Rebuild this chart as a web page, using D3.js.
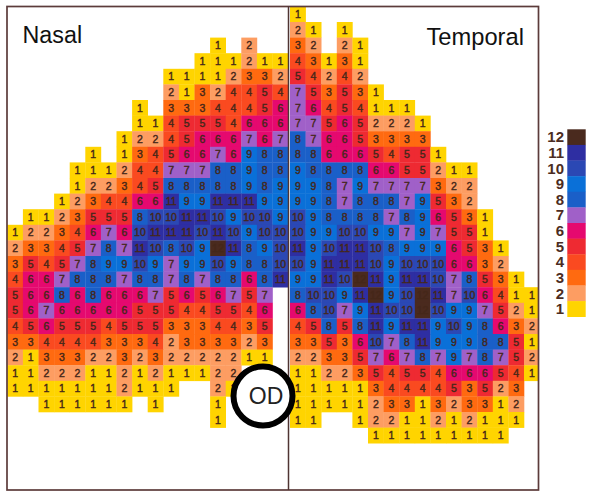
<!DOCTYPE html>
<html><head><meta charset="utf-8">
<script src="https://cdn.jsdelivr.net/npm/d3@7"></script>
<style>html,body{margin:0;padding:0;background:#fff}svg{display:block}text{font-family:"Liberation Sans",Arial,sans-serif}</style>
</head><body><svg id="c" width="591" height="493"></svg>
<script>
const levels=[12,11,10,9,8,7,6,5,4,3,2,1];
const levelColors=["#4a2a1e","#2e2ea2","#2b48b4","#0a70d8","#1a5fc8","#a060c8","#e5096f","#ee2a32","#fa4a20","#ff6a10","#fd9d62","#ffd400"];
const sideLabels=["Nasal","Temporal"];
const discLabel="OD";
const nasal=[
[0,0,0,0,0,0,0,0,0,0,0,0,0,0,0,0,0,0],
[0,0,0,0,0,0,0,0,0,0,0,0,0,0,0,0,0,0],
[0,0,0,0,0,0,0,0,0,0,0,0,0,1,0,2,0,0],
[0,0,0,0,0,0,0,0,0,0,0,0,1,1,1,2,1,1],
[0,0,0,0,0,0,0,0,0,0,1,1,1,1,2,3,3,2],
[0,0,0,0,0,0,0,0,0,0,2,1,3,2,4,4,5,4],
[0,0,0,0,0,0,0,0,1,0,3,3,3,4,4,4,5,6],
[0,0,0,0,0,0,0,0,1,1,4,5,5,5,4,6,6,6],
[0,0,0,0,0,0,0,1,2,2,4,5,6,6,6,7,6,7],
[0,0,0,0,0,1,0,1,3,4,5,6,6,7,6,9,8,8],
[0,0,0,0,1,1,1,2,4,4,7,7,7,8,8,9,8,8],
[0,0,0,0,1,2,2,3,4,5,8,8,8,8,8,9,8,9],
[0,0,0,1,2,3,4,4,6,6,11,9,9,11,11,11,9,9],
[0,1,1,2,3,5,5,5,8,10,10,11,11,10,9,10,10,9],
[1,2,2,3,4,6,7,6,10,11,11,11,10,11,10,9,10,10],
[2,3,3,4,5,7,8,7,11,10,8,10,9,12,11,8,9,10],
[3,5,4,5,7,8,9,9,10,9,7,9,9,10,9,8,8,10],
[4,6,6,7,8,8,8,7,8,8,7,8,7,8,8,6,8,11],
[5,6,6,8,6,8,6,6,6,7,5,6,5,6,7,5,7,0],
[5,6,7,6,6,6,6,6,5,5,5,4,4,5,5,4,6,0],
[4,5,6,5,5,5,4,5,5,5,3,3,3,4,4,3,5,0],
[3,3,4,4,4,4,3,3,3,4,2,3,3,3,3,2,3,0],
[2,1,3,3,3,2,2,3,2,3,2,2,2,2,2,1,1,0],
[1,1,2,2,2,1,1,2,1,2,1,1,1,2,2,0,0,0],
[1,1,1,1,1,1,1,2,1,1,1,0,0,2,1,0,0,0],
[0,0,1,1,1,1,1,1,0,1,0,0,0,1,0,0,0,0],
[0,0,0,0,0,0,0,0,0,0,0,0,0,1,0,0,0,0],
[0,0,0,0,0,0,0,0,0,0,0,0,0,0,0,0,0,0]];
const temporal=[
[1],
[2,1,0,1],
[3,2,0,2,1],
[4,3,1,3,1],
[5,4,2,4,2],
[7,5,3,5,3,1],
[7,6,4,5,4,1,1,1],
[7,7,5,6,5,2,2,2,1],
[8,7,6,6,5,3,3,3,3],
[8,8,6,6,6,5,4,5,5,1],
[9,8,8,8,8,6,6,5,5,2,1,1],
[9,9,8,7,9,7,7,7,7,3,2,2],
[9,9,8,7,8,8,8,7,9,5,3,2],
[10,9,8,8,8,8,7,8,9,6,5,3,1],
[10,9,9,10,10,9,9,7,9,7,5,5,1],
[11,9,10,11,11,10,8,9,9,9,6,5,3,1],
[10,9,11,11,11,10,9,10,10,10,6,6,3,2],
[9,9,11,10,12,11,9,11,11,10,7,8,5,3,1],
[8,10,10,9,11,12,9,10,12,11,7,10,6,4,1,1],
[6,8,10,7,9,11,10,10,12,10,9,9,7,5,2,1],
[4,5,8,5,8,11,9,11,11,9,10,9,8,6,3,2],
[3,3,5,3,6,10,7,8,11,9,9,9,8,8,5,1],
[2,2,3,3,5,7,6,7,8,7,9,7,8,7,5,2],
[1,1,2,2,3,5,4,5,5,4,6,6,6,5,4,1],
[1,1,1,1,1,3,4,4,4,4,5,3,5,2,3],
[1,1,1,1,1,2,3,3,1,3,2,3,3,1,2],
[1,1,0,0,1,2,2,1,1,2,1,2,1,1,1],
[0,0,0,0,0,1,1,1,1,1,1,1,1,1]];

const svg=d3.select("#c");
const frame={l:7,t:6.5,r:538.5,b:490,mid:288.5};
svg.append("defs").append("clipPath").attr("id","fr").append("rect")
  .attr("x",frame.l).attr("y",frame.t).attr("width",frame.r-frame.l).attr("height",frame.b-frame.t);
const color=d3.scaleOrdinal(levels,levelColors);
const y=d3.scaleBand(d3.range(nasal.length),[6.4,443.2]);
const xN=d3.scaleBand(d3.range(18),[7.3,288.1]);
const xT=d3.scaleBand(d3.range(16),[290,539.6]);
const ink="#452719";
const g=svg.append("g").attr("clip-path","url(#fr)");
function draw(rows,x,key){
  const cells=rows.flatMap((r,ri)=>r.map((v,ci)=>({v,ri,ci}))).filter(d=>d.v>0);
  const s=g.append("g").attr("class",key).selectAll("g").data(cells).join("g");
  s.append("rect").attr("x",d=>x(d.ci)).attr("y",d=>y(d.ri))
    .attr("width",x.bandwidth()+0.3).attr("height",y.bandwidth()+0.3).attr("fill",d=>color(d.v));
  s.append("text").attr("x",d=>x(d.ci)+x.bandwidth()/2).attr("y",d=>y(d.ri)+y.bandwidth()/2+3.8)
    .attr("text-anchor","middle").attr("font-size",10.5).attr("fill",ink)
    .attr("stroke",ink).attr("stroke-width",0.4).text(d=>d.v);
}
draw(nasal,xN,"nasal");
draw(temporal,xT,"temporal");

svg.append("rect").attr("x",frame.l).attr("y",frame.t).attr("width",frame.r-frame.l).attr("height",frame.b-frame.t)
  .attr("fill","none").attr("stroke","#5c3b3a").attr("stroke-width",1.7);
svg.append("line").attr("x1",frame.mid).attr("x2",frame.mid).attr("y1",frame.t).attr("y2",frame.b)
  .attr("stroke","#4f3433").attr("stroke-width",1.5);

svg.append("text").attr("x",22.5).attr("y",42.5).attr("font-size",23.3).attr("fill","#111").text(sideLabels[0]);
svg.append("text").attr("x",426.5).attr("y",45).attr("font-size",23.7).attr("fill","#111").text(sideLabels[1]);

svg.append("circle").attr("cx",263).attr("cy",396).attr("r",29.5).attr("fill","#fff").attr("stroke","#000").attr("stroke-width",6);
svg.append("text").attr("x",266).attr("y",404).attr("text-anchor","middle").attr("font-size",23).attr("fill","#222").text(discLabel);

const ly=d3.scaleBand(levels,[129.3,316.7]);
const lg=svg.append("g").selectAll("g").data(levels).join("g");
lg.append("rect").attr("x",567.3).attr("y",d=>ly(d)).attr("width",18.4).attr("height",ly.bandwidth()+0.3).attr("fill",d=>color(d));
lg.append("text").attr("x",564).attr("y",d=>ly(d)+ly.bandwidth()/2+5.3).attr("text-anchor","end")
  .attr("font-size",15).attr("font-weight","bold").attr("fill","#4b2c22").text(d=>d);
</script></body></html>
